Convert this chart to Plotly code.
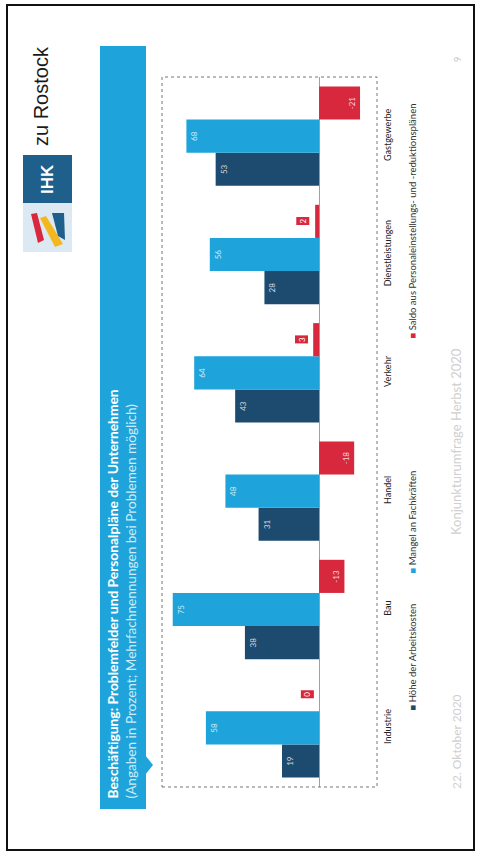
import plotly.graph_objects as go

# ---------------- data ----------------
categories = ["Industrie", "Bau", "Handel", "Verkehr", "Dienstleistungen", "Gastgewerbe"]
arbeitskosten = [19, 38, 31, 43, 28, 53]
fachkraefte = [58, 75, 48, 64, 56, 68]
saldo = [0, -13, -18, 3, 2, -21]
series_names = ["Höhe der Arbeitskosten", "Mangel an Fachkräften",
                "Saldo aus Personaleinstellungs- und -reduktionsplänen"]
title_text = "Beschäftigung: Problemfelder und Personalpläne der Unternehmen"
subtitle_text = "(Angaben in Prozent; Mehrfachnennungen bei Problemen möglich)"

# ---------------- style ----------------
C_DARK = "#1d4a6f"
C_LIGHT = "#1ea4da"
C_RED = "#d8283d"
FONT = "Lato"

W, H = 478, 854
L, R, T, B = 162, 377, 77, 787


def px(x):
    return (x - L) / (R - L)


def py(y):
    return (B - y) / (B - T)


fig = go.Figure()

label_font = dict(family=FONT, size=8, color="rgba(255,255,255,0.8)")

fig.add_trace(go.Bar(
    y=categories, x=arbeitskosten, orientation="h", name=series_names[0],
    marker=dict(color=C_DARK, line=dict(width=0)),
    text=[str(v) for v in arbeitskosten], textposition="inside",
    insidetextanchor="end", textangle=-90, constraintext="none",
    insidetextfont=label_font, hoverinfo="x+y",
))
fig.add_trace(go.Bar(
    y=categories, x=fachkraefte, orientation="h", name=series_names[1],
    marker=dict(color=C_LIGHT, line=dict(width=0)),
    text=[str(v) for v in fachkraefte], textposition="inside",
    insidetextanchor="end", textangle=-90, constraintext="none",
    insidetextfont=label_font, hoverinfo="x+y",
))
fig.add_trace(go.Bar(
    y=categories, x=saldo, orientation="h", name=series_names[2],
    marker=dict(color=C_RED, line=dict(width=0)),
    text=[str(v) if abs(v) >= 10 else "" for v in saldo], textposition="inside",
    insidetextanchor="end", textangle=-90, constraintext="none",
    insidetextfont=label_font, hoverinfo="x+y",
))

annotations = []
# small saldo labels in red boxes
bar_w = (1 - 0.16) / 3
for i, v in enumerate(saldo):
    if abs(v) < 10:
        annotations.append(dict(
            x=max(v, 0), y=i + bar_w, xref="x", yref="y", text=str(v),
            showarrow=False, textangle=-90, xanchor="right", yanchor="middle",
            xshift=-5, bgcolor=C_RED, borderpad=1,
            font=dict(family=FONT, size=8, color="white"),
        ))

# legend (rotated like the slide)
legend_items = [(series_names[0], C_DARK, 713), (series_names[1], C_LIGHT, 576),
                (series_names[2], C_RED, 341)]
for name, col, ystart in legend_items:
    annotations.append(dict(
        x=px(412), y=py(ystart), xref="paper", yref="paper",
        text=f'<span style="color:{col}">■</span> {name}',
        showarrow=False, textangle=-90, xanchor="center", yanchor="bottom",
        font=dict(family=FONT, size=9.5, color="#333333"),
    ))

# title bar texts
annotations.append(dict(
    x=px(112), y=py(801), xref="paper", yref="paper", text=f"<b>{title_text}</b>",
    showarrow=False, textangle=-90, xanchor="center", yanchor="bottom",
    font=dict(family=FONT, size=13.8, color="white"),
))
annotations.append(dict(
    x=px(130), y=py(801), xref="paper", yref="paper", text=subtitle_text,
    showarrow=False, textangle=-90, xanchor="center", yanchor="bottom",
    font=dict(family=FONT, size=13.6, color="rgba(255,255,255,0.8)"),
))

# logo texts
annotations.append(dict(
    x=px(41), y=py(148), xref="paper", yref="paper", text="zu Rostock",
    showarrow=False, textangle=-90, xanchor="center", yanchor="bottom",
    font=dict(family="Liberation Sans", size=20, color="#1a1a1a"),
))
annotations.append(dict(
    x=px(47), y=py(179), xref="paper", yref="paper", text="<b>IHK</b>",
    showarrow=False, textangle=-90, xanchor="center", yanchor="middle",
    font=dict(family="Liberation Sans", size=17, color="white"),
))

# footer
annotations.append(dict(
    x=px(456), y=py(742), xref="paper", yref="paper", text="22. Oktober 2020",
    showarrow=False, textangle=-90, xanchor="center", yanchor="middle",
    font=dict(family=FONT, size=12, color="#cfcfcf"),
))
annotations.append(dict(
    x=px(456), y=py(442), xref="paper", yref="paper", text="Konjunkturumfrage Herbst 2020",
    showarrow=False, textangle=-90, xanchor="center", yanchor="middle",
    font=dict(family=FONT, size=13, color="#cfcfcf"),
))
annotations.append(dict(
    x=px(457), y=py(60), xref="paper", yref="paper", text="9",
    showarrow=False, textangle=-90, xanchor="center", yanchor="middle",
    font=dict(family=FONT, size=9, color="#c4c4c4"),
))

shapes = []
# slide border
shapes.append(dict(type="rect", xref="paper", yref="paper",
                   x0=px(7), x1=px(474), y0=py(5), y1=py(850),
                   line=dict(color="#111111", width=2), layer="below"))
# blue title bar
shapes.append(dict(type="rect", xref="paper", yref="paper",
                   x0=px(100), x1=px(146), y0=py(46), y1=py(809),
                   fillcolor=C_LIGHT, line=dict(width=0), layer="below"))
shapes.append(dict(type="path", xref="paper", yref="paper",
                   path=f"M {px(145)} {py(755)} L {px(153)} {py(765)} L {px(145)} {py(775)} Z",
                   fillcolor=C_LIGHT, line=dict(width=0), layer="below"))
# chart frame
shapes.append(dict(type="rect", xref="paper", yref="paper",
                   x0=0, x1=1, y0=0, y1=1,
                   line=dict(color="#777777", width=1, dash="dot"), layer="above"))
# logo boxes
shapes.append(dict(type="rect", xref="paper", yref="paper",
                   x0=px(23), x1=px(72), y0=py(155), y1=py(203),
                   fillcolor="#1f5f8c", line=dict(width=0)))
shapes.append(dict(type="rect", xref="paper", yref="paper",
                   x0=px(23), x1=px(72), y0=py(203), y1=py(252),
                   fillcolor="#dce9f2", line=dict(width=0)))
shapes.append(dict(type="path", xref="paper", yref="paper",
                   path=f"M {px(31)} {py(214)} L {px(37)} {py(213)} L {px(44)} {py(240)} L {px(38)} {py(243)} Z",
                   fillcolor="#d8283d", line=dict(width=0)))
shapes.append(dict(type="path", xref="paper", yref="paper",
                   path=f"M {px(40)} {py(218)} L {px(46)} {py(216)} L {px(63)} {py(244)} L {px(55)} {py(247)} Z",
                   fillcolor="#f3b81f", line=dict(width=0)))
shapes.append(dict(type="path", xref="paper", yref="paper",
                   path=f"M {px(52)} {py(213)} L {px(64)} {py(213)} L {px(65)} {py(240)} L {px(58)} {py(236)} Z",
                   fillcolor="#1f5f8c", line=dict(width=0)))

fig.update_layout(
    width=W, height=H,
    margin=dict(l=L, r=W - R, t=T, b=H - B, pad=0),
    paper_bgcolor="white", plot_bgcolor="white",
    barmode="group", bargap=0.16, bargroupgap=0,
    showlegend=False,
    font=dict(family=FONT, color="#333333"),
    xaxis=dict(range=[80.5, -29.7], showgrid=False, showticklabels=False,
               ticks="", zeroline=True, zerolinecolor="#a0a0a0", zerolinewidth=1,
               showline=False, fixedrange=True),
    yaxis=dict(side="right", tickangle=-90, showgrid=False, ticks="",
               tickfont=dict(family=FONT, size=9, color="#222222"),
               showline=False, zeroline=False, ticklabelstandoff=4,
               categoryorder="array", categoryarray=categories, fixedrange=True),
    annotations=annotations,
    shapes=shapes,
)

fig.write_html("out.html", config={"displayModeBar": False},
               post_script="document.body.style.margin='0';")
